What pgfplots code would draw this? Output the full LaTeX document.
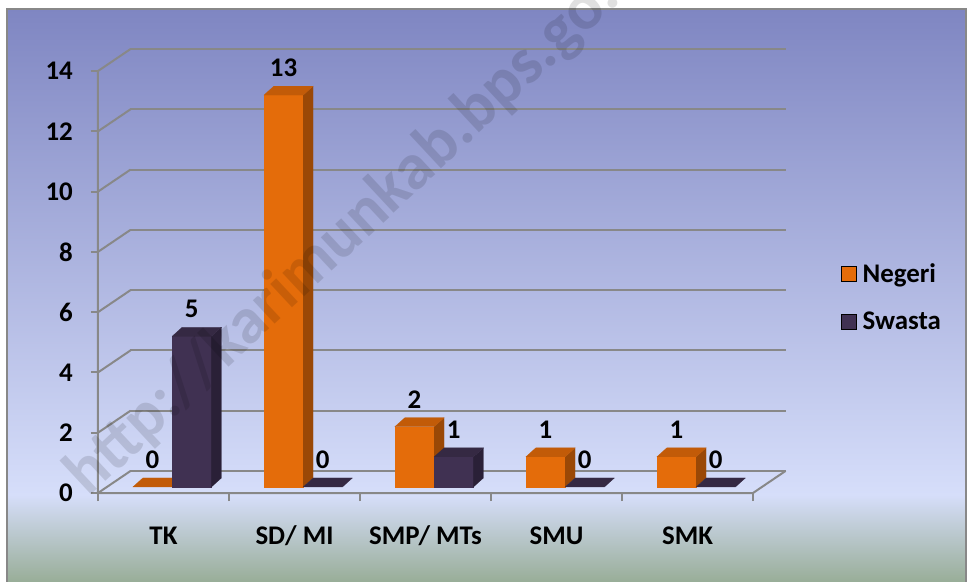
\documentclass[border=0pt]{standalone}
\usepackage{fontspec}
\setmainfont{Carlito}
\usepackage{pgfplots}
\usepackage{pgfplotstable}
\pgfplotsset{compat=1.18}
\definecolor{negF}{HTML}{E46C0A}
\definecolor{negT}{HTML}{C25B08}
\definecolor{negS}{HTML}{9A4806}
\definecolor{swaF}{HTML}{403152}
\definecolor{swaT}{HTML}{352943}
\definecolor{swaS}{HTML}{2A2037}
\definecolor{gridc}{HTML}{888888}
\definecolor{bgTop}{HTML}{7F86C2}
\definecolor{bgMid}{HTML}{D6DEFA}
\definecolor{bgBot}{HTML}{98AD97}

\pgfplotstableread{
idx neg swa
0 0 5
1 13 0
2 2 1
3 1 0
4 1 0
}\datatable

\newcommand{\lblfont}{\bfseries\fontsize{27}{31}\selectfont}
\tikzset{vlabel/.style={font=\lblfont, anchor=center, inner sep=0pt, yshift=27bp}}

\newcommand{\barthree}[6]{%
  \pgfmathsetmacro\xa{#1+#3}%
  \pgfmathsetmacro\xb{\xa+0.3}%
  \pgfmathsetmacro\xc{\xa+0.0763}%
  \pgfmathsetmacro\xd{\xb+0.0763}%
  \pgfmathsetmacro\xm{\xa+0.15}%
  \pgfmathsetmacro\yb{0.2+#2}%
  \pgfmathsetmacro\yd{\yb+0.2986}%
  \ifdim #2pt>0pt
    \edef\tmp{\noexpand\addplot[fill=#4,draw=#4,line width=0.2bp,forget plot] coordinates {(\xa,0.2) (\xb,0.2) (\xb,\yb) (\xa,\yb)} -- cycle;
      \noexpand\addplot[fill=#6,draw=#6,line width=0.2bp,forget plot] coordinates {(\xb,0.2) (\xd,0.4986) (\xd,\yd) (\xb,\yb)} -- cycle;}%
    \tmp
  \fi
  \edef\tmp{\noexpand\addplot[fill=#5,draw=#5,line width=0.2bp,forget plot] coordinates {(\xa,\yb) (\xb,\yb) (\xd,\yd) (\xc,\yd)} -- cycle;
    \noexpand\node[vlabel] at (axis cs:\xm,\yb) {#2};}%
  \tmp
}

\begin{document}
\begin{tikzpicture}
\useasboundingbox (-163.5bp,-89bp) rectangle (804.5bp,493bp);
\fill[white] (-163.5bp,-89bp) rectangle (804.5bp,493bp);
\shade[top color=bgTop, bottom color=bgMid] (-156.5bp,-2bp) rectangle (802.5bp,484bp);
\shade[top color=bgMid, bottom color=bgBot] (-156.5bp,-89.5bp) rectangle (802.5bp,-2bp);
\draw[gridc, line width=2bp] (-156.5bp,-95bp) -- (-156.5bp,484bp) -- (802.5bp,484bp) -- (802.5bp,-95bp);

% back wall with gridlines
\begin{axis}[x=131bp, y=30.14bp, at={(32.5bp,22bp)}, anchor=origin,
  xmin=-0.5, xmax=4.5, ymin=0, ymax=14,
  axis line style={draw=none}, xtick=\empty, ytick={0,2,...,14}, yticklabels={},
  major tick length=0pt, ymajorgrids, grid style={gridc, line width=2bp}]
\addplot[draw=none] coordinates {(0,0)};
\end{axis}

\begin{axis}[x=131bp, y=30.14bp, at={(0,0)}, anchor=origin,
  xmin=-0.5, xmax=4.5, ymin=0, ymax=14, clip=false,
  axis x line*=bottom, axis y line*=left, axis line style={draw=none},
  tick align=outside,
  xtick={0,...,4}, xticklabels={TK,SD/ MI,SMP/ MTs,SMU,SMK},
  major x tick style={draw=none},
  minor xtick={-0.5,0.5,...,4.5}, minor tick length=8bp,
  minor x tick style={draw=gridc, line width=2bp},
  ytick={0,2,...,14}, major tick length=7bp,
  major y tick style={draw=gridc, line width=2bp},
  /pgf/number format/assume math mode=true,
  tick label style={font=\lblfont},
  xticklabel style={anchor=base, inner sep=0pt, yshift=-44bp},
  yticklabel style={anchor=east, inner sep=0pt, xshift=-18bp},
  legend image code/.code={\fill[#1] (0bp,-7.5bp) rectangle (15bp,7.5bp);},
  legend cell align=left,
  legend style={at={(axis cs:5.172,7.62)}, anchor=north west, draw=none, fill=none,
    inner sep=0pt, row sep=28bp, font=\lblfont, nodes={inner sep=0pt},
    /tikz/every odd column/.append style={column sep=6bp}},
]
\pgfplotsinvokeforeach{0,2,...,14}{\draw[gridc,line width=2bp] (axis cs:-0.5,#1) -- ++(32.5bp,22bp);}
\draw[gridc, line width=2bp] (axis cs:-0.5,14) -- (axis cs:-0.5,0) -- (axis cs:4.5,0) -- ++(32.5bp,22bp);
\pgfplotsforeachungrouped \i in {0,...,4}{%
  \pgfplotstablegetelem{\i}{neg}\of\datatable \let\vn\pgfplotsretval
  \pgfplotstablegetelem{\i}{swa}\of\datatable \let\vs\pgfplotsretval
  \barthree{\i}{\vn}{-0.234}{negF}{negT}{negS}%
  \barthree{\i}{\vs}{0.066}{swaF}{swaT}{swaS}%
}
\addlegendimage{fill=negF}
\addlegendentry{Negeri}
\addlegendimage{fill=swaF}
\addlegendentry{Swasta}
\end{axis}

\begin{scope}
\clip (-163.5bp,-89bp) rectangle (804.5bp,493bp);
\node[rotate=43, anchor=base west, inner sep=0pt, text=black, text opacity=0.12,
  font=\bfseries\fontsize{66}{70}\selectfont] at (-75bp,-5bp) {http://karimunkab.bps.go.id};
\end{scope}
\end{tikzpicture}
\end{document}
